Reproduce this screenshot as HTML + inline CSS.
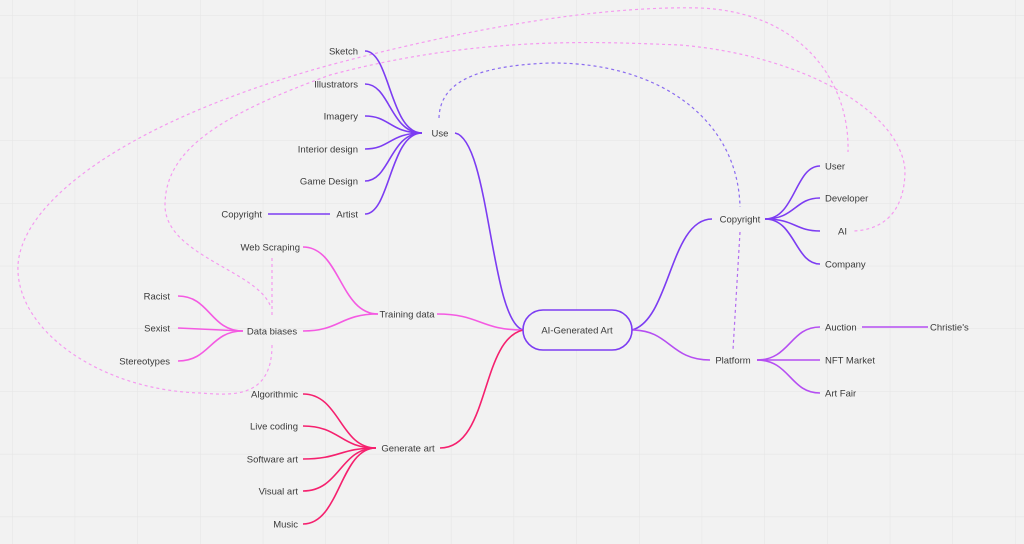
<!DOCTYPE html>
<html><head><meta charset="utf-8"><style>
html,body{margin:0;padding:0;background:#f2f2f2;}
svg{display:block;font-family:"Liberation Sans",sans-serif;}
text{font-size:9.5px;fill:#3a3a3a;}
</style></head><body>
<svg width="1024" height="544" viewBox="0 0 1024 544" xmlns="http://www.w3.org/2000/svg">
<defs><pattern id="g" x="12" y="15" width="62.7" height="62.7" patternUnits="userSpaceOnUse"><path d="M0 0H62.7M0 0V62.7" stroke="#e4e4e4" stroke-width="1" fill="none"/></pattern></defs>
<rect width="1024" height="544" fill="#f2f2f2"/>
<rect width="1024" height="544" fill="url(#g)"/>

<g fill="none" stroke-width="1.2" stroke-dasharray="3,3">
<path d="M272,345 C272,400 230,395 200,393 C100,390 15,330 18,265 C22,200 130,120 330,65 C500,20 620,6 700,8 C800,12 850,80 848,152" stroke="#f59af0"/>
<path d="M270,305 C255,270 165,255 165,205 C165,150 220,115 330,75 C480,35 600,42 680,45 C800,55 900,110 905,170 C905,210 885,230 853,231" stroke="#f59af0"/>
<path d="M272,258 L272,318" stroke="#f59af0"/>
<path d="M439,118 C440,85 470,66 550,63 C660,62 738,120 740,207" stroke="#8b6cf0"/>
<path d="M740,232 L733,350" stroke="#b36cf0"/>
</g>

<g fill="none" stroke-width="1.6">
<!-- Use branch -->
<g stroke="#7c3cf2">
<path d="M455,133 C490,140 490,320 523,330"/>
<path d="M422,133 C390,133 390,51 365,51"/>
<path d="M422,133 C390,133 390,84 365,84"/>
<path d="M422,133 C390,133 390,116 365,116"/>
<path d="M422,133 C390,133 390,149 365,149"/>
<path d="M422,133 C390,133 390,181 365,181"/>
<path d="M422,133 C390,133 390,214 365,214"/>
<path d="M268,214 L330,214"/>
<!-- Copyright branch -->
<path d="M632,330 C670,320 670,219 712,219"/>
<path d="M765,219 C795,219 795,166 820,166"/>
<path d="M765,219 C795,219 795,198 820,198"/>
<path d="M765,219 C795,219 795,231 820,231"/>
<path d="M765,219 C795,219 795,264 820,264"/>
</g>
<g stroke="#b54ef2">
<path d="M632,330 C670,330 670,360 710,360"/>
<path d="M757,360 C790,360 790,327 820,327"/>
<path d="M757,360 L820,360"/>
<path d="M757,360 C790,360 790,393 820,393"/>
<path d="M862,327 L928,327"/>
</g>
<g stroke="#f45ae2">
<path d="M437,314 C480,314 480,330 523,330"/>
<path d="M378,314 C340,314 340,247 303,247"/>
<path d="M378,314 C340,314 340,331 303,331"/>
<path d="M243,331 C210,331 210,296 178,296"/>
<path d="M243,331 L178,328"/>
<path d="M243,331 C210,331 210,361 178,361"/>
</g>
<g stroke="#f5206e">
<path d="M440,448 C490,448 480,340 523,330"/>
<path d="M376,448 C340,448 340,394 303,394"/>
<path d="M376,448 C340,448 340,426 303,426"/>
<path d="M376,448 C340,448 340,459 303,459"/>
<path d="M376,448 C340,448 340,491 303,491"/>
<path d="M376,448 C340,448 340,524 303,524"/>
</g>
</g>

<rect x="523" y="310" width="109" height="40" rx="20" fill="#f2f2f2" stroke="#7c3cf2" stroke-width="1.6"/>
<text x="577" y="333.5" text-anchor="middle">AI-Generated Art</text>

<g text-anchor="end">
<text x="358" y="54.5">Sketch</text>
<text x="358" y="87.5">Illustrators</text>
<text x="358" y="119.5">Imagery</text>
<text x="358" y="152.5">Interior design</text>
<text x="358" y="184.5">Game Design</text>
<text x="358" y="217.5">Artist</text>
<text x="262" y="217.5">Copyright</text>
<text x="300" y="250.5">Web Scraping</text>
<text x="170" y="299.5">Racist</text>
<text x="170" y="331.5">Sexist</text>
<text x="170" y="364.5">Stereotypes</text>
<text x="298" y="397.5">Algorithmic</text>
<text x="298" y="429.5">Live coding</text>
<text x="298" y="462.5">Software art</text>
<text x="298" y="494.5">Visual art</text>
<text x="298" y="527.5">Music</text>
</g>
<g text-anchor="middle">
<text x="440" y="136.5">Use</text>
<text x="272" y="334.5">Data biases</text>
<text x="407" y="317.5">Training data</text>
<text x="408" y="451.5">Generate art</text>
<text x="740" y="222.5">Copyright</text>
<text x="733" y="363.5">Platform</text>
</g>
<g>
<text x="825" y="169.5">User</text>
<text x="825" y="201.5">Developer</text>
<text x="838" y="234.5">AI</text>
<text x="825" y="267.5">Company</text>
<text x="825" y="330.5">Auction</text>
<text x="930" y="330.5">Christie's</text>
<text x="825" y="363.5">NFT Market</text>
<text x="825" y="396.5">Art Fair</text>
</g>
</svg>
</body></html>
